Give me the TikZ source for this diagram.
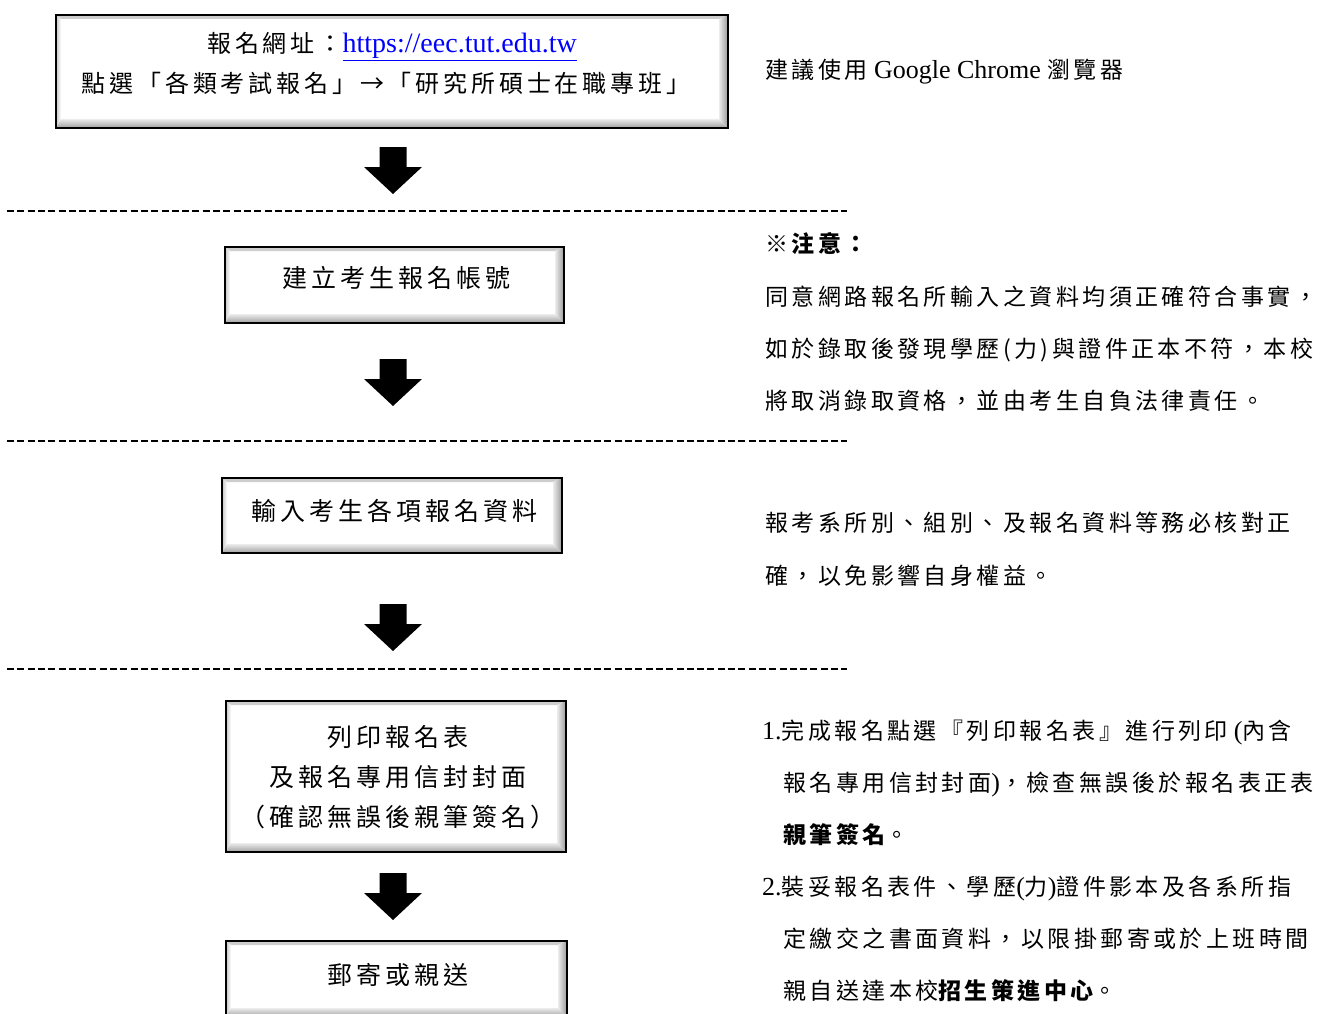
\documentclass[tikz,border=0pt]{standalone}
\usepackage{fontspec}
\setmainfont{Liberation Serif}
\newfontfamily\cjkA[LetterSpace=16]{Noto Sans CJK TC}
\newfontfamily\cjkT[LetterSpace=15]{Noto Sans CJK TC}
\usetikzlibrary{calc}
\newcommand\zhA[1]{{\fontsize{24}{30}\selectfont\cjkA #1}}
\newcommand\zhB[1]{{\fontsize{25}{30}\selectfont\cjkA #1}}
\newcommand\zh[1]{{\fontsize{23}{28}\selectfont\cjkT #1}}
\newcommand\zhbf[1]{{\fontsize{23}{28}\selectfont\cjkT\bfseries #1}}
\definecolor{linkblue}{RGB}{0,0,255}
\tikzset{
  bevbox/.style={rectangle, draw=black, line width=2pt, fill=white, inner sep=0pt,
    path picture={
      \shade[top color=gray!40, bottom color=white]
        let \p1=(path picture bounding box.north west), \p2=(path picture bounding box.south east) in
        (\x1,\y1) -- (\x2,\y1) -- (\x2-9pt,\y1-4pt) -- (\x1+5pt,\y1-4pt) -- cycle;
      \shade[left color=gray!45, right color=white]
        let \p1=(path picture bounding box.north west), \p2=(path picture bounding box.south east) in
        (\x1,\y1) -- (\x1+5pt,\y1-4pt) -- (\x1+5pt,\y2+9pt) -- (\x1,\y2) -- cycle;
      \shade[left color=gray!15, right color=gray!80]
        let \p1=(path picture bounding box.north west), \p2=(path picture bounding box.south east) in
        (\x2,\y1) -- (\x2,\y2) -- (\x2-9pt,\y2+9pt) -- (\x2-9pt,\y1-4pt) -- cycle;
      \shade[top color=gray!15, bottom color=gray!75]
        let \p1=(path picture bounding box.north west), \p2=(path picture bounding box.south east) in
        (\x1,\y2) -- (\x2,\y2) -- (\x2-9pt,\y2+9pt) -- (\x1+5pt,\y2+9pt) -- cycle;
    }},
  boxtext/.style={anchor=base, inner sep=0pt, font=\fontsize{28}{30}\selectfont},
  sidetext/.style={anchor=base west, inner sep=0pt, font=\fontsize{26}{30}\selectfont},
  dashline/.style={line width=2.7pt, dash pattern=on 7pt off 3.3pt},
  blockarrow/.style={fill=black}
}
\newcommand\blkarrow[1]{\fill[blockarrow] (#1) ++(-13.5,0) -- ++(27,0) -- ++(0,20) -- ++(15.5,0) -- ++(-29,27) -- ++(-29,-27) -- ++(15.5,0) -- cycle;}
\begin{document}
\begin{tikzpicture}[x=1pt, y=-1pt]
\useasboundingbox (0,0) rectangle (1322,1014);

% boxes
\node[bevbox, minimum width=672pt, minimum height=113pt] (b1) at (392,71.5) {};
\node[bevbox, minimum width=339pt, minimum height=76pt] (b2) at (394.5,285) {};
\node[bevbox, minimum width=340pt, minimum height=75pt] (b3) at (392,515.5) {};
\node[bevbox, minimum width=340pt, minimum height=151pt] (b4) at (396,776.5) {};
\node[bevbox, minimum width=341pt, minimum height=76pt] (b5) at (396.5,979) {};

% box texts
\node[boxtext] (t1a) at (392,53) {\zhA{報名網址：}{\color{linkblue}\underline{https://eec.tut.edu.tw}}};
\node[boxtext] (t1b) at (386,93) {\zhA{點選「各類考試報名」→「研究所碩士在職專班」}};
\node[boxtext] (t2) at (396,287.5) {\zhB{建立考生報名帳號}};
\node[boxtext] (t3) at (394,520.5) {\zhB{輸入考生各項報名資料}};
\node[boxtext] (t4a) at (398,746.5) {\zhB{列印報名表}};
\node[boxtext] (t4b) at (398,786.5) {\zhB{及報名專用信封封面}};
\node[boxtext] (t4c) at (398,826.5) {\zhB{（確認無誤後親筆簽名）}};
\node[boxtext] (t5) at (398,984.5) {\zhB{郵寄或親送}};

% block arrows
\coordinate (a1) at (393,147);
\coordinate (a2) at (393,359);
\coordinate (a3) at (393,604);
\coordinate (a4) at (393,873);
\blkarrow{a1}
\blkarrow{a2}
\blkarrow{a3}
\blkarrow{a4}

% dashed separators
\coordinate (d1s) at (7,211);  \coordinate (d1e) at (847,211);
\coordinate (d2s) at (7,441);  \coordinate (d2e) at (847,441);
\coordinate (d3s) at (7,669);  \coordinate (d3e) at (847,669);
\draw[dashline] (d1s) -- (d1e);
\draw[dashline] (d2s) -- (d2e);
\draw[dashline] (d3s) -- (d3e);

% side texts
\node[sidetext] (s0) at (765,79) {\zh{建議使用} Google Chrome \zh{瀏覽器}};
\node[sidetext] (s1) at (765,252) {\zhbf{※注意：}};
\node[sidetext] (s2) at (765,305) {\zh{同意網路報名所輸入之資料均須正確符合事實，}};
\node[sidetext] (s3) at (765,357) {\zh{如於錄取後發現學歷(力)與證件正本不符，本校}};
\node[sidetext] (s4) at (765,409) {\zh{將取消錄取資格，並由考生自負法律責任。}};
\node[sidetext] (s5) at (765,531) {\zh{報考系所別、組別、及報名資料等務必核對正}};
\node[sidetext] (s6) at (765,584) {\zh{確，以免影響自身權益。}};

\node[sidetext] (i1) at (762,739) {1.\zh{完成報名點選『列印報名表』進行列印}\hspace{6pt}(\zh{內含}};
\node[sidetext] (i2) at (783,791) {\zh{報名專用信封封面})\zh{，檢查無誤後於報名表正表}};
\node[sidetext] (i3) at (783,843) {\zhbf{親筆簽名}\zh{。}};
\node[sidetext] (i4) at (762,895) {2.\zh{裝妥報名表件、學歷}(\zh{力})\zh{證件影本及各系所指}};
\node[sidetext] (i5) at (783,947) {\zh{定繳交之書面資料，以限掛郵寄或於上班時間}};
\node[sidetext] (i6) at (783,999) {\zh{親自送達本校}\zhbf{招生策進中心}\zh{。}};
\end{tikzpicture}
\end{document}
